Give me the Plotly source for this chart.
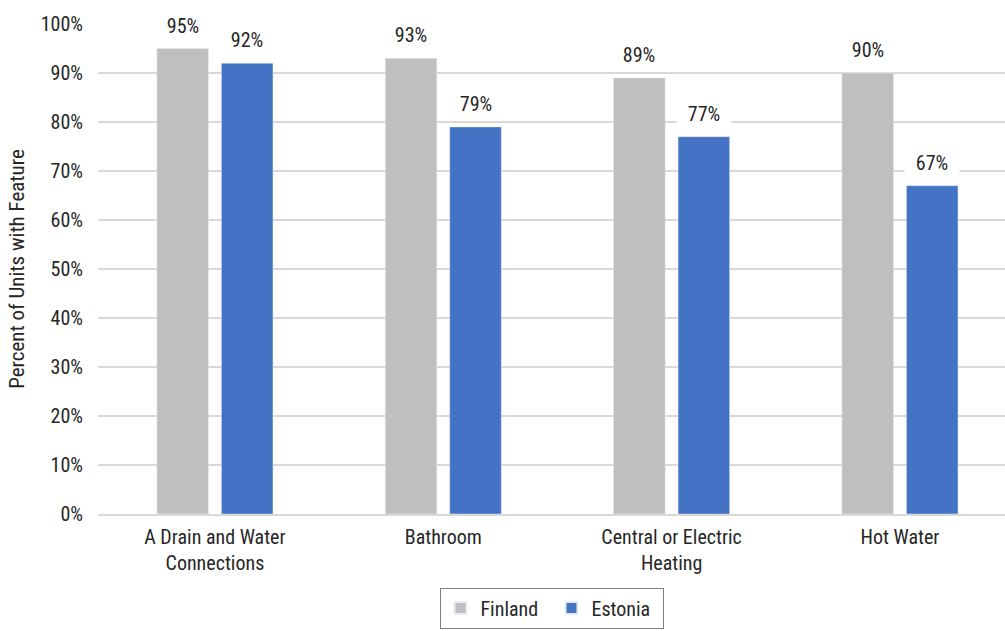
import plotly.graph_objects as go

categories = ["A Drain and Water<br>Connections", "Bathroom", "Central or Electric<br>Heating", "Hot Water"]
finland = [0.95, 0.93, 0.89, 0.90]
estonia = [0.92, 0.79, 0.77, 0.67]
y_title = "Percent of Units with Feature"

FONT = "Roboto Condensed, Liberation Sans Narrow, Roboto, sans-serif"
TXT = "#262626"
FS = 20

fig = go.Figure()
fig.add_trace(go.Bar(x=list(range(4)), y=finland, name="Finland", marker_color="#BFBFBF"))
fig.add_trace(go.Bar(x=list(range(4)), y=estonia, name="Estonia", marker_color="#4472C4"))

off = 0.1415
for i in range(4):
    for val, dx in ((finland[i], -off), (estonia[i], off)):
        fig.add_annotation(x=i + dx, y=val, xref="x", yref="y", text=f"{round(val*100)}%",
                           showarrow=False, yanchor="middle", yshift=23,
                           bgcolor="white", width=52, height=22,
                           font=dict(family=FONT, size=FS, color=TXT))

fig.update_layout(
    width=1005, height=631,
    margin=dict(l=98, r=0, t=24, b=117),
    paper_bgcolor="white", plot_bgcolor="white",
    barmode="group", bargap=0.435, bargroupgap=0.2,
    font=dict(family=FONT, size=FS, color=TXT),
    xaxis=dict(tickmode="array", tickvals=list(range(4)), ticktext=categories,
               range=[-0.512, 3.46], showgrid=False, showline=True,
               linecolor="#D9D9D9", linewidth=1.5, ticks="", ticklabelstandoff=4,
               tickfont=dict(family=FONT, size=FS, color=TXT)),
    yaxis=dict(range=[0, 1], dtick=0.1, tickformat=".0%", showgrid=True,
               gridcolor="#D9D9D9", gridwidth=1.5, zeroline=False, showline=False,
               ticklabelstandoff=14,
               title=dict(text=y_title, font=dict(family=FONT, size=21, color=TXT), standoff=10),
               tickfont=dict(family=FONT, size=FS, color=TXT)),
    showlegend=True,
    legend=dict(orientation="h", x=0.5, xanchor="center", y=-0.15, yanchor="top",
                bordercolor="#7F7F7F", borderwidth=1, font=dict(family=FONT, size=FS, color=TXT),
                itemsizing="constant", traceorder="normal", entrywidth=66),
)

fig.write_html("out.html", post_script="document.body.style.margin='0';",
               config={"displayModeBar": False})
